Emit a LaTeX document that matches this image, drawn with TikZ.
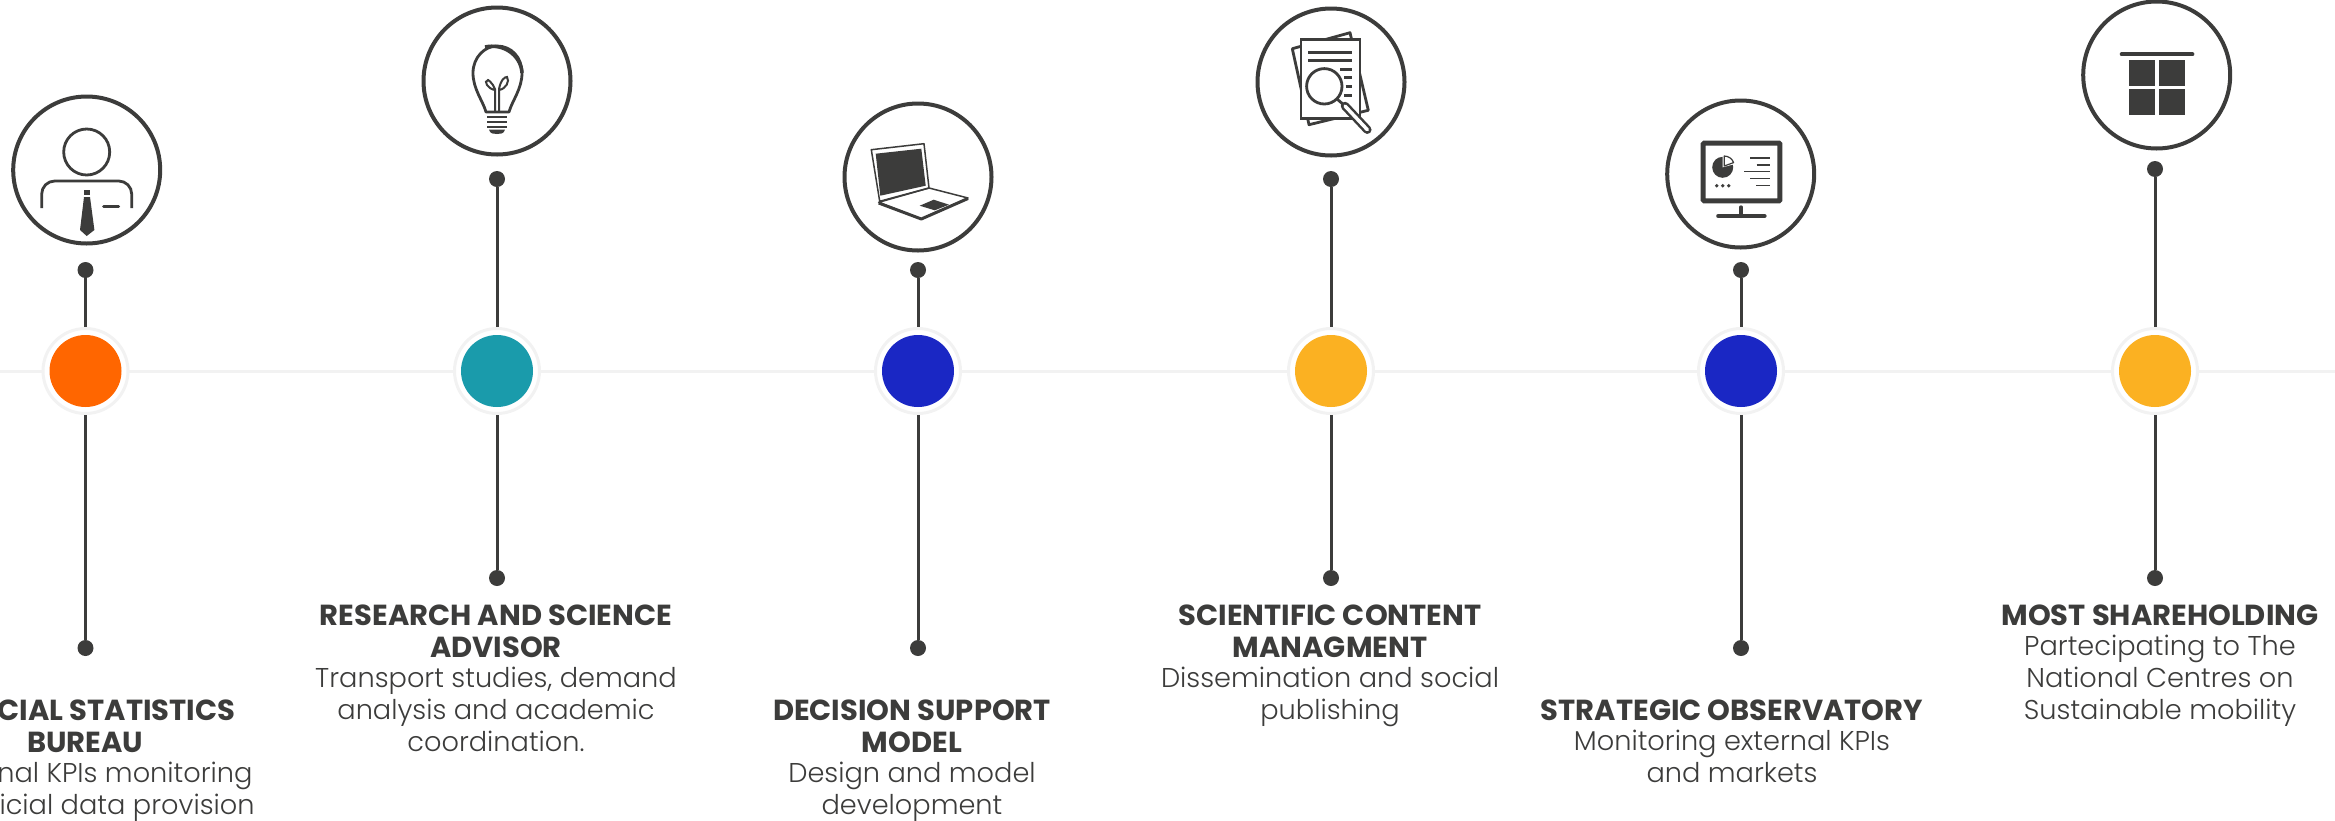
\documentclass[tikz,border=0pt]{standalone}
\usepackage{fontspec}
\setmainfont{Poppins}[UprightFont=* Light,BoldFont=* Bold]
\usetikzlibrary{positioning}

\definecolor{inkgrey}{HTML}{3C3C3B}
\definecolor{palegrey}{HTML}{F2F2F2}
\definecolor{hubOrange}{HTML}{FF6600}
\definecolor{hubTeal}{HTML}{1A9BAB}
\definecolor{hubBlue}{HTML}{1A27C4}
\definecolor{hubYellow}{HTML}{FBB122}

\newcommand{\infohead}[1]{{\fontsize{29}{32}\selectfont\bfseries #1}}

\begin{document}
\begin{tikzpicture}[x=1pt,y=-1pt,
		iconring/.style={circle,draw=inkgrey,line width=4pt,fill=white,minimum size=147pt,inner sep=0pt},
		hubring/.style={circle,draw=palegrey,line width=3pt,fill=white,minimum size=85pt,inner sep=0pt},
		hubcore/.style={circle,minimum size=72pt,inner sep=0pt},
		tipdot/.style={circle,fill=inkgrey,minimum size=16pt,inner sep=0pt},
		stem/.style={draw=inkgrey,line width=3pt},
		trackline/.style={draw=palegrey,line width=3pt},
		infotext/.style={anchor=north,align=center,inner sep=0pt,text=inkgrey,font=\fontsize{27.2}{32}\selectfont},
		ink/.style={draw=inkgrey,line width=2.8pt},
		inkfill/.style={fill=inkgrey}
	]

	\useasboundingbox (0,0) rectangle (2335,820);

	% Track behind the hubs
	\coordinate (trackL) at (0,371);
	\coordinate (trackR) at (2335,371);
	\draw[trackline] (trackL) -- (trackR);

	% Columns: hub, rings and stems
	\foreach \n/\x/\ix/\iy/\dy/\ey/\cc in {
			A/85.5/86.7/170/270/648/hubOrange,
			B/497/497/81/179/578/hubTeal,
			C/918/918/177/270/648/hubBlue,
			D/1331/1331/82/179/578/hubYellow,
			E/1741/1740.7/174/270/648/hubBlue,
			F/2155/2156.7/75/169/578/hubYellow} {
		\node[iconring] (icon\n) at (\ix,\iy) {};
		\node[tipdot] (dot\n) at (\x,\dy) {};
		\node[tipdot] (end\n) at (\x,\ey) {};
		\node[hubring] (hub\n) at (\x,371) {};
		\node[hubcore,fill=\cc] (core\n) at (\x,371) {};
		\draw[stem] (dot\n) -- (hub\n);
		\draw[stem] (hub\n) -- (end\n);
	}

	% Person
	\begin{scope}[shift={(iconA.center)}]
		\draw[ink] (0,-18) circle (23);
		\draw[ink,rounded corners=13pt] (-45,38) -- (-45,11) -- (45,11) -- (45,38);
		\fill[inkfill] (-2.5,19.5) rectangle (3,25);
		\fill[inkfill] (-2.7,27) -- (3.3,27) -- (7.7,60) -- (0,66) -- (-6.7,60) -- cycle;
		\draw[ink,line width=3pt,line cap=round] (17,36) -- (32,36);
	\end{scope}

	% Bulb
	\begin{scope}[shift={(iconB.center)}]
		\draw[ink,line join=round] (-11,31) .. controls (-14,20) and (-24,8) .. (-24,-8)
			.. controls (-24,-24) and (-12,-35) .. (0,-35)
			.. controls (14,-35) and (25,-24) .. (25,-8)
			.. controls (25,8) and (15,20) .. (12,31) -- cycle;
		\draw[ink,line width=3.5pt] (-12,-34) .. controls (6,-38) and (24,-26) .. (25,-8);
		\draw[ink,line width=2pt] (-2,31) -- (-2,8) .. controls (-4,2) and (-10,-2) .. (-9,-1)
			.. controls (-14,0) and (-9,8) .. (-2,9);
		\draw[ink,line width=2pt] (2,31) -- (2,8) .. controls (4,-2) and (8,-4) .. (10,-4)
			.. controls (13,0) and (9,8) .. (2,9);
		\foreach \by in {36,41,46} {
			\draw[ink,line width=2.8pt] (-10,\by) -- (10,\by);
		}
		\fill[inkfill] (-8,48.5) -- (8,48.5) .. controls (7,53) and (3,53) .. (0,53) .. controls (-3,53) and (-7,53) .. (-8,48.5) -- cycle;
	\end{scope}

	% Laptop
	\begin{scope}[shift={(iconC.center)}]
		\draw[ink,line width=1.5pt,line join=round] (-46.7,-27.3) -- (6,-33.3) -- (11,11) -- (-38.3,24.3) -- cycle;
		\fill[inkfill] (-42.3,-23.3) -- (3.3,-28.3) -- (7.7,8.7) -- (-37.7,18.7) -- cycle;
		\draw[ink,line width=1.5pt,line join=round] (-39.3,25.3) -- (11,11) -- (50,21) -- (3.3,42) -- cycle;
		\draw[ink,line width=3pt,line join=round] (-39.3,26) -- (3.3,42) -- (50,21.5);
		\fill[inkfill] (1.7,28.7) -- (15.7,22.7) -- (31,27.7) -- (16.7,33.3) -- cycle;
	\end{scope}

	% Papers and lens
	\begin{scope}[shift={(iconD.center)}]
		\draw[ink,fill=white,line join=round] (-38.7,-33.3) -- (19,-49.3) -- (37.3,28.3) -- (-22,42.7) -- cycle;
		\draw[ink,fill=white] (-30,-42.7) rectangle (29,36.7);
		\draw[ink,line width=3pt] (-22.7,-30) -- (20.7,-30);
		\draw[ink,line width=3pt] (-22.7,-21.7) -- (20.7,-21.7);
		\draw[ink,line width=3pt] (9,-12.7) -- (20.7,-12.7);
		\draw[ink,line width=3pt] (13,-4.3) -- (20.7,-4.3);
		\draw[ink,line width=3pt] (14.5,4.3) -- (20.7,4.3);
		\draw[ink,line width=3pt] (13,13.3) -- (20.7,13.3);
		\draw[ink,fill=white] (-6.7,4.3) circle (17.7);
		\draw[ink] (5.8,16.8) -- (14,24);
		\draw[draw=inkgrey,line width=8.5pt,line cap=round] (14,24) -- (36.3,47.7);
		\draw[draw=white,line width=3.5pt,line cap=round] (14,24) -- (36.3,47.7);
	\end{scope}

	% Monitor
	\begin{scope}[shift={(iconE.center)}]
		\draw[ink,line width=5pt,rounded corners=1pt] (-37.5,-30.8) rectangle (39.2,26.8);
		\draw[ink,line width=4pt,line cap=round] (0.3,33.3) -- (0.3,42);
		\draw[ink,line width=4.5pt,line cap=round] (-22.3,42) -- (23.7,42);
		\fill[inkfill] (-18,-6.7) circle (10.5);
		\fill[white] (-18,-6.7) -- ++(-90:11) arc (-90:-15:11) -- cycle;
		\draw[ink,line width=1.2pt,fill=white,line join=round] (-16.5,-8) -- ++(-90:10) arc (-90:-20:10) -- cycle;
		\foreach \dotx in {-24,-18,-12} {
			\fill[inkfill] (\dotx,11.7) circle (1.9);
		}
		\draw[ink,line width=1.5pt] (9.3,-16) -- (29.3,-16);
		\draw[ink,line width=1.5pt] (16,-9) -- (29.3,-9);
		\draw[ink,line width=1.5pt] (3.3,-2.3) -- (29.3,-2.3);
		\draw[ink,line width=1.5pt] (9.3,4.7) -- (29.3,4.7);
		\draw[ink,line width=1.5pt] (15.3,11.3) -- (29.3,11.3);
	\end{scope}

	% Squares
	\begin{scope}[shift={(iconF.center)}]
		\draw[ink,line width=4pt,line cap=round] (-35,-20.7) -- (35.7,-20.7);
		\fill[inkfill] (-27.7,-15) rectangle (-1.7,11);
		\fill[inkfill] (2.3,-15) rectangle (28.3,11);
		\fill[inkfill] (-27.7,14) rectangle (-1.7,40);
		\fill[inkfill] (2.3,14) rectangle (28.3,40);
	\end{scope}

	% Texts
	\node[infotext] (textA) at (85,700) {\infohead{OFFICIAL STATISTICS}\\\infohead{BUREAU}\\[-2pt]\hspace*{20pt}Internal KPIs monitoring\\\hspace*{22pt}\& official data provision};
	\node[infotext] (textB) at (496,605) {\infohead{RESEARCH AND SCIENCE}\\\infohead{ADVISOR}\\[-2pt]Transport studies, demand\\analysis and academic\\coordination.};
	\node[infotext] (textC) at (912,700) {\infohead{DECISION SUPPORT}\\\infohead{MODEL}\\[-2pt]Design and model\\development};
	\node[infotext] (textD) at (1330,605) {\infohead{SCIENTIFIC CONTENT}\\\infohead{MANAGMENT}\\[-2pt]Dissemination and social\\publishing};
	\node[infotext] (textE) at (1732,700) {\infohead{STRATEGIC OBSERVATORY}\\[-2pt]Monitoring external KPIs\\and markets};
	\node[infotext] (textF) at (2160,605) {\infohead{MOST SHAREHOLDING}\\[-2pt]Partecipating to The\\National Centres on\\Sustainable mobility};

\end{tikzpicture}
\end{document}
